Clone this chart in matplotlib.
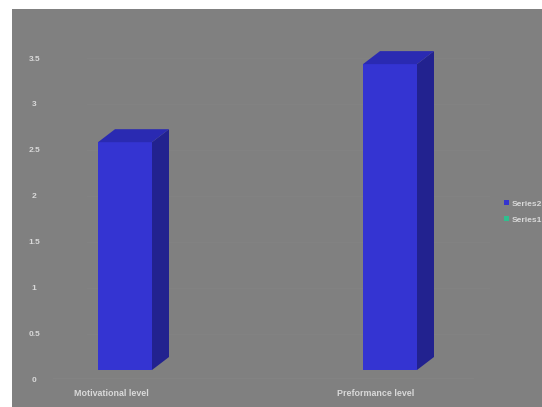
import numpy as np
import matplotlib
matplotlib.use('Agg')
import matplotlib.pyplot as plt
import matplotlib.transforms as mtransforms
from matplotlib.patches import Rectangle, Polygon, Patch

categories = ['Motivational level', 'Preformance level']
series2 = [2.48, 3.33]
series_names = ['Series2', 'Series1']
series_colors = ['#3434cf', '#2fbf8f']
yticks = [0, 0.5, 1, 1.5, 2, 2.5, 3, 3.5]
ytick_labels = ['0', '0.5', '1', '1.5', '2', '2.5', '3', '3.5']

W, H = 542, 407
fig = plt.figure(figsize=(W / 100, H / 100), dpi=100)
fig.patch.set_facecolor('white')
# gray chart area (white strip on top and left)
fig.patches.append(Rectangle((12 / W, 0), 1 - 12 / W, 1 - 9 / H, transform=fig.transFigure,
                             facecolor='#808080', edgecolor='none', zorder=-5))

# axes placed in pixel terms
left, right, bottom, top = 53, 490, 379.5, 58
ax = fig.add_axes([left / W, 1 - bottom / H, (right - left) / W, (bottom - top) / H])
ax.set_zorder(1)
ax.set_facecolor('none')
for s in ax.spines.values():
    s.set_visible(False)

px_per_x = 265.0
px_per_y = (bottom - top) / 3.5
x0 = -(125 - left) / px_per_x
ax.set_xlim(x0, x0 + (right - left) / px_per_x)
ax.set_ylim(0, 3.5)

width = 54 / px_per_x
dx = 17 / px_per_x
dy = 13 / px_per_y
base = (bottom - 370) / px_per_y

# faint back wall gridlines
for t in yticks[1:]:
    ax.plot([x0 + 2 * dx, x0 + (right - left) / px_per_x], [t, t], color='#838383', lw=0.6, zorder=1)
ax.plot([x0, x0 + (right - left) / px_per_x - dx], [0.02, 0.02], color='#848484', lw=0.6, zorder=1)

front = '#3434d2'
side = '#22228f'
topc = '#2a2ab2'
for i, v in enumerate(series2):
    xl = i - width / 2
    xr = i + width / 2
    yb = base
    yt = base + v
    ax.add_patch(Rectangle((xl, yb), width, v, facecolor=front, edgecolor='none', zorder=3,
                           clip_on=False))
    ax.add_patch(Polygon([(xr, yb), (xr + dx, yb + dy), (xr + dx, yt + dy), (xr, yt)],
                         closed=True, facecolor=side, edgecolor='none', zorder=3, clip_on=False))
    ax.add_patch(Polygon([(xl, yt), (xl + dx, yt + dy), (xr + dx, yt + dy), (xr, yt)],
                         closed=True, facecolor=topc, edgecolor='none', zorder=3, clip_on=False))

ax.set_yticks(yticks)
ax.set_yticklabels(ytick_labels)
ax.tick_params(axis='y', length=0, pad=13.5, labelsize=6, labelcolor='#d9d9d9')
for lab in ax.get_yticklabels():
    lab.set_ha('center')
    lab.set_fontfamily('Liberation Sans')
    lab.set_fontweight('bold')

ax.set_xticks(range(len(categories)))
ax.set_xticklabels(categories)
ax.tick_params(axis='x', length=0, pad=7, labelsize=6.4, labelcolor='#d9d9d9')
shift = mtransforms.ScaledTranslation(-14 / 100, 0, fig.dpi_scale_trans)
for lab in ax.get_xticklabels():
    lab.set_transform(lab.get_transform() + shift)
    lab.set_fontfamily('Liberation Sans')
    lab.set_fontweight('bold')

handles = [Patch(facecolor=c, edgecolor='none') for c in series_colors]
leg = fig.legend(handles, series_names, loc='upper left', bbox_to_anchor=(504 / W, 1 - 200 / H),
                 frameon=False, fontsize=6, handlelength=0.6, handleheight=0.6,
                 handletextpad=0.3, labelspacing=1.0, borderpad=0, borderaxespad=0)
for t in leg.get_texts():
    t.set_color('#d9d9d9')
    t.set_fontfamily('Liberation Sans')
    t.set_fontweight('bold')

fig.savefig('out.png', dpi=100)
